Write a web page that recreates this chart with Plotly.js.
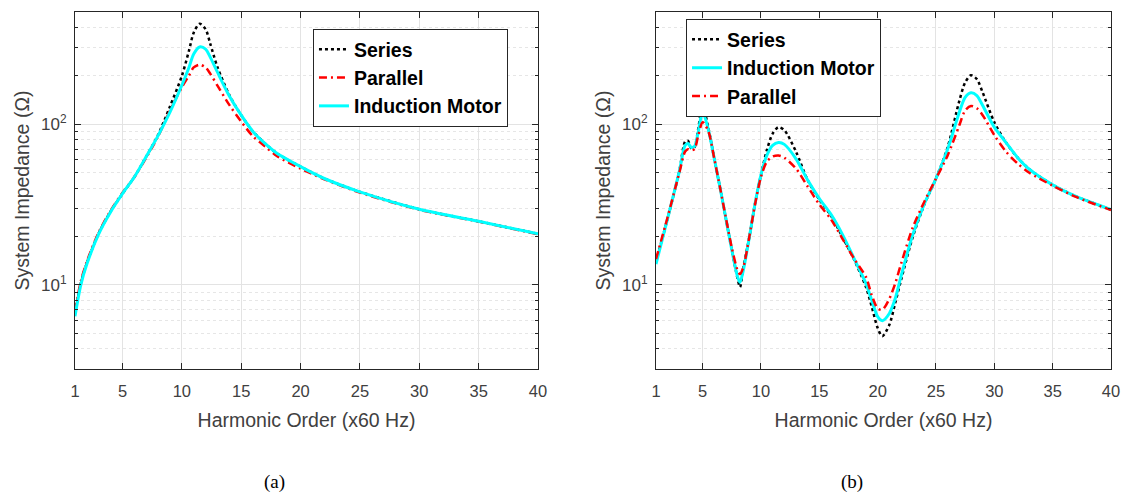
<!DOCTYPE html>
<html><head><meta charset="utf-8">
<script src="https://cdn.plot.ly/plotly-3.0.1.min.js"></script>
<style>html,body{margin:0;padding:0;background:#fff}#chart{width:1126px;height:498px}</style>
</head><body><div id="chart"></div>
<script>
// ---- data ----
const harmonicsA = [1,1.5,2,3,4,5,6,7,8,9,10,10.6,11,11.5,12,12.4,13,14,15,16,17,18,20,22,25,30,35,40];
const seriesA    = [6.6,10.3,13.7,21,28.7,37,47,63,86,129,200,287,372,423,391,316,227,152,114,90,76,66,54.5,46,38,29.6,24.9,20.8];
const parallelA  = [6.9,10.6,14,21.3,29,37.5,47,62,84,122,170,201,226,235,226,206,174,132,104,84,73,63.5,53,45.5,37.6,29.4,24.8,20.7];
const motorA     = [6.4,10.1,13.5,20.8,28.5,37,47,63,85,119,175,226,274,303,294,261,211,150,114,90,76,66,54.5,46,38,29.6,24.9,20.8];

const harmonicsB = [1,2,3,3.5,3.75,4,4.3,4.6,5,5.5,6,6.5,7,7.5,8,8.2,8.5,9,9.5,10,10.5,11,11.5,12,13,14,15,16,17,18,19,19.5,20,20.4,21,21.5,22,23,24,25,26,27,27.5,28,28.5,29,30,31,32,33,35,37,40];
const seriesB    = [14,26,51,78,79,71,72,92,130,94,61,40,25.7,16.5,10.9,9.7,13,19.8,32.4,48.5,69,87.5,96,92,67.6,45,34,27,19.8,14.3,9.7,7.3,5.4,4.8,5.65,7.7,10.7,19.8,31.7,46,72,140,182,202,191,158,103,77,62,52.5,42,35.6,29.5];
const motorB     = [13.5,26,51,74,76,72,73,88,119,92,61,40,25.7,16.5,11.2,10.4,12.5,19.8,32.4,48.5,64,74,77,75,61,45,34.5,27.5,20.5,14.5,10.2,8.0,6.35,6.0,6.65,8.2,11.3,20.5,32,46,70,119,147,157,151,131,96,77,62,52.5,42,35.6,29.5];
const parallelB  = [14.5,26.5,50,67.7,70,69,70,84,103,90,61,40,26,17,12.3,11.7,13,20,32,47,58.6,63,64,62,53,41,31.7,25.6,19.3,14.5,11.2,8.6,7.15,7.0,8.2,10.2,13.5,22.7,33,46,64,98.6,122,130,126,114,85.5,67.6,57,50,41.5,35.3,29.3];

const xTickVals = [1,5,10,15,20,25,30,35,40];
const yTickVals = [10,100];
const yTickText = ['10<sup>1</sup>','10<sup>2</sup>'];
const yMinorVals = [3,4,5,6,7,8,9,20,30,40,50,60,70,80,90,200,300,400,500];

// ---- styles ----
const FONT = 'Liberation Sans, Arial, Helvetica, sans-serif';
const styles = {
  series:   {color:'#000000', width:2.5, dash:'dot'},
  parallel: {color:'#ff0000', width:2.5, dash:'8px,4px,2px,4px'},
  motor:    {color:'#00ffff', width:3,   dash:'solid'}
};
function tr(x, y, name, st, ax, leg){
  return {x:x, y:y, name:'<b>'+name+'</b>', type:'scatter', mode:'lines',
    line:Object.assign({shape:'spline', smoothing:0.8}, st),
    xaxis:'x'+ax, yaxis:'y'+ax, legend:leg, showlegend:true, hoverinfo:'x+y'};
}
const data = [
  tr(harmonicsA, seriesA,   'Series',          styles.series,   '',  'legend'),
  tr(harmonicsA, parallelA, 'Parallel',        styles.parallel, '',  'legend'),
  tr(harmonicsA, motorA,    'Induction Motor', styles.motor,    '',  'legend'),
  tr(harmonicsB, seriesB,   'Series',          styles.series,   '2', 'legend2'),
  tr(harmonicsB, motorB,    'Induction Motor', styles.motor,    '2', 'legend2'),
  tr(harmonicsB, parallelB, 'Parallel',        styles.parallel, '2', 'legend2')
];

function xAxis(domain, anchor){
  return {domain:domain, anchor:anchor, range:[1,40], tickmode:'array', tickvals:xTickVals,
    showline:true, linecolor:'#262626', linewidth:1, mirror:'ticks', ticks:'inside', ticklen:6,
    tickcolor:'#262626', showgrid:true, gridcolor:'#e3e3e3', zeroline:false,
    tickfont:{family:FONT, size:16.5, color:'#404040'}, ticklabelstandoff:7,
    title:{text:'Harmonic Order (x60 Hz)', font:{family:FONT, size:19.5, color:'#404040'}, standoff:14}};
}
function yAxis(anchor){
  return {domain:[0,1], anchor:anchor, type:'log', range:[Math.log10(3), Math.log10(500)],
    tickmode:'array', tickvals:yTickVals, ticktext:yTickText,
    showline:true, linecolor:'#262626', linewidth:1, mirror:'ticks', ticks:'inside', ticklen:6,
    tickcolor:'#262626', showgrid:true, gridcolor:'#e3e3e3', zeroline:false,
    minor:{tickmode:'array', tickvals:yMinorVals, ticks:'inside', ticklen:3, tickcolor:'#262626',
      showgrid:true, gridcolor:'#e6e6e6', griddash:'dot'},
    tickfont:{family:FONT, size:17, color:'#404040'}, ticklabelstandoff:4,
    title:{text:'System Impedance (Ω)', font:{family:FONT, size:19.5, color:'#404040'}, standoff:6}};
}
const legendStyle = {bgcolor:'#ffffff', bordercolor:'#262626', borderwidth:1,
  font:{family:FONT, size:19.5, color:'#000000'}, xanchor:'left', yanchor:'top'};

const layout = {
  width:1126, height:498, paper_bgcolor:'#ffffff', plot_bgcolor:'#ffffff',
  margin:{l:75, r:15, t:12, b:129},
  xaxis: xAxis([0, 0.4469], 'y'),
  yaxis: yAxis('x'),
  xaxis2: xAxis([0.5608, 1.0], 'y2'),
  yaxis2: yAxis('x2'),
  legend: Object.assign({x:0.2297, y:0.9524}, legendStyle),
  legend2: Object.assign({x:0.5898, y:0.980}, legendStyle),
  annotations:[
    {text:'(a)', xref:'paper', yref:'paper', x:0.193, y:-0.3165, xanchor:'center', yanchor:'middle', showarrow:false,
     font:{family:'Liberation Serif, Times New Roman, serif', size:19, color:'#000'}},
    {text:'(b)', xref:'paper', yref:'paper', x:0.750, y:-0.3165, xanchor:'center', yanchor:'middle', showarrow:false,
     font:{family:'Liberation Serif, Times New Roman, serif', size:19, color:'#000'}}
  ],
  showlegend:true
};
Plotly.newPlot('chart', data, layout, {displayModeBar:false, staticPlot:true});
</script></body></html>
